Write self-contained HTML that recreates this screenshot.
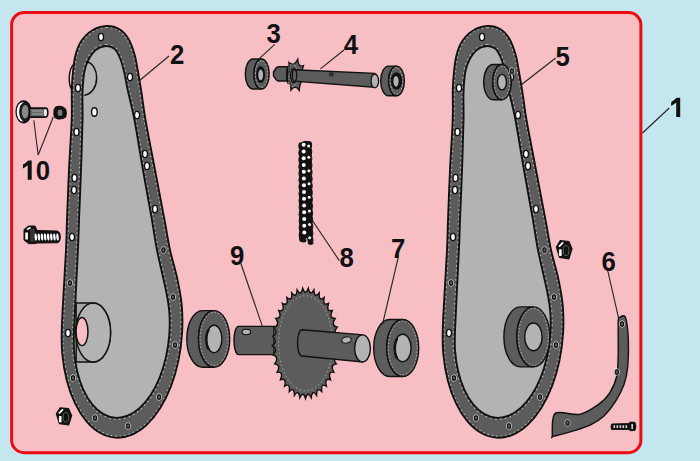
<!DOCTYPE html>
<html><head><meta charset="utf-8"><style>html,body{margin:0;padding:0;background:#c4e7ef;overflow:hidden}svg{display:block}</style></head><body>
<svg width="700" height="461" viewBox="0 0 700 461">
<rect x="0" y="0" width="700" height="461" fill="#c4e7ef"/>
<rect x="11.6" y="12.5" width="629.3" height="440.2" rx="12.5" fill="#f7bfc4" stroke="#ec0c14" stroke-width="3"/>
<g transform="translate(0,0)">
<clipPath id="cl"><path d="M106.50,26.00 C111.00,25.83 115.83,27.13 119.50,29.30 C123.17,31.47 125.98,34.77 128.50,39.00 C131.02,43.23 133.02,49.20 134.60,54.70 C136.18,60.20 136.85,65.65 138.00,72.00 C139.15,78.35 140.25,84.80 141.50,92.80 C142.75,100.80 143.25,107.13 145.50,120.00 C147.75,132.87 151.83,153.33 155.00,170.00 C158.17,186.67 162.00,206.67 164.50,220.00 C167.00,233.33 167.89,240.31 170.00,250.00 C172.11,259.69 175.23,269.04 177.17,278.14 C179.12,287.24 180.85,295.51 181.67,304.61 C182.49,313.72 182.64,323.42 182.10,332.77 C181.56,342.11 180.30,351.73 178.44,360.68 C176.57,369.63 173.98,378.52 170.93,386.46 C167.87,394.40 164.13,401.95 160.08,408.34 C156.03,414.74 151.40,420.43 146.64,424.84 C141.88,429.25 136.67,432.70 131.52,434.83 C126.37,436.96 120.94,437.92 115.75,437.62 C110.57,437.32 105.28,435.74 100.41,433.03 C95.54,430.32 90.76,426.31 86.54,421.38 C82.32,416.44 78.37,410.26 75.09,403.44 C71.80,396.62 68.95,388.70 66.83,380.46 C64.70,372.22 63.15,363.09 62.33,353.99 C61.51,344.88 61.29,343.17 61.90,325.83 C62.51,308.50 65.15,267.64 66.00,250.00 C66.85,232.36 66.50,233.33 67.00,220.00 C67.50,206.67 68.22,186.67 69.00,170.00 C69.78,153.33 71.23,133.43 71.70,120.00 C72.17,106.57 71.58,97.40 71.80,89.40 C72.02,81.40 72.37,77.78 73.00,72.00 C73.63,66.22 74.18,59.90 75.60,54.70 C77.02,49.50 78.68,44.87 81.50,40.80 C84.32,36.73 88.33,32.77 92.50,30.30 C96.67,27.83 102.00,26.17 106.50,26.00Z"/></clipPath>
<path d="M106.50,26.00 C111.00,25.83 115.83,27.13 119.50,29.30 C123.17,31.47 125.98,34.77 128.50,39.00 C131.02,43.23 133.02,49.20 134.60,54.70 C136.18,60.20 136.85,65.65 138.00,72.00 C139.15,78.35 140.25,84.80 141.50,92.80 C142.75,100.80 143.25,107.13 145.50,120.00 C147.75,132.87 151.83,153.33 155.00,170.00 C158.17,186.67 162.00,206.67 164.50,220.00 C167.00,233.33 167.89,240.31 170.00,250.00 C172.11,259.69 175.23,269.04 177.17,278.14 C179.12,287.24 180.85,295.51 181.67,304.61 C182.49,313.72 182.64,323.42 182.10,332.77 C181.56,342.11 180.30,351.73 178.44,360.68 C176.57,369.63 173.98,378.52 170.93,386.46 C167.87,394.40 164.13,401.95 160.08,408.34 C156.03,414.74 151.40,420.43 146.64,424.84 C141.88,429.25 136.67,432.70 131.52,434.83 C126.37,436.96 120.94,437.92 115.75,437.62 C110.57,437.32 105.28,435.74 100.41,433.03 C95.54,430.32 90.76,426.31 86.54,421.38 C82.32,416.44 78.37,410.26 75.09,403.44 C71.80,396.62 68.95,388.70 66.83,380.46 C64.70,372.22 63.15,363.09 62.33,353.99 C61.51,344.88 61.29,343.17 61.90,325.83 C62.51,308.50 65.15,267.64 66.00,250.00 C66.85,232.36 66.50,233.33 67.00,220.00 C67.50,206.67 68.22,186.67 69.00,170.00 C69.78,153.33 71.23,133.43 71.70,120.00 C72.17,106.57 71.58,97.40 71.80,89.40 C72.02,81.40 72.37,77.78 73.00,72.00 C73.63,66.22 74.18,59.90 75.60,54.70 C77.02,49.50 78.68,44.87 81.50,40.80 C84.32,36.73 88.33,32.77 92.50,30.30 C96.67,27.83 102.00,26.17 106.50,26.00Z" fill="#5c5c5c"/>
<path d="M106.50,26.00 C111.00,25.83 115.83,27.13 119.50,29.30 C123.17,31.47 125.98,34.77 128.50,39.00 C131.02,43.23 133.02,49.20 134.60,54.70 C136.18,60.20 136.85,65.65 138.00,72.00 C139.15,78.35 140.25,84.80 141.50,92.80 C142.75,100.80 143.25,107.13 145.50,120.00 C147.75,132.87 151.83,153.33 155.00,170.00 C158.17,186.67 162.00,206.67 164.50,220.00 C167.00,233.33 167.89,240.31 170.00,250.00 C172.11,259.69 175.23,269.04 177.17,278.14 C179.12,287.24 180.85,295.51 181.67,304.61 C182.49,313.72 182.64,323.42 182.10,332.77 C181.56,342.11 180.30,351.73 178.44,360.68 C176.57,369.63 173.98,378.52 170.93,386.46 C167.87,394.40 164.13,401.95 160.08,408.34 C156.03,414.74 151.40,420.43 146.64,424.84 C141.88,429.25 136.67,432.70 131.52,434.83 C126.37,436.96 120.94,437.92 115.75,437.62 C110.57,437.32 105.28,435.74 100.41,433.03 C95.54,430.32 90.76,426.31 86.54,421.38 C82.32,416.44 78.37,410.26 75.09,403.44 C71.80,396.62 68.95,388.70 66.83,380.46 C64.70,372.22 63.15,363.09 62.33,353.99 C61.51,344.88 61.29,343.17 61.90,325.83 C62.51,308.50 65.15,267.64 66.00,250.00 C66.85,232.36 66.50,233.33 67.00,220.00 C67.50,206.67 68.22,186.67 69.00,170.00 C69.78,153.33 71.23,133.43 71.70,120.00 C72.17,106.57 71.58,97.40 71.80,89.40 C72.02,81.40 72.37,77.78 73.00,72.00 C73.63,66.22 74.18,59.90 75.60,54.70 C77.02,49.50 78.68,44.87 81.50,40.80 C84.32,36.73 88.33,32.77 92.50,30.30 C96.67,27.83 102.00,26.17 106.50,26.00Z" fill="none" stroke="#fff" stroke-width="4.2" stroke-dasharray="1.5 3.2" clip-path="url(#cl)" opacity="0.6"/>
<path d="M106.00,46.00 C109.08,45.83 112.17,46.80 114.50,48.80 C116.83,50.80 118.38,54.13 120.00,58.00 C121.62,61.87 122.93,66.77 124.20,72.00 C125.47,77.23 125.88,81.40 127.60,89.40 C129.32,97.40 131.93,106.57 134.50,120.00 C137.07,133.43 140.08,153.33 143.00,170.00 C145.92,186.67 149.67,206.67 152.00,220.00 C154.33,233.33 154.63,238.08 157.00,250.00 C159.37,261.92 164.15,281.09 166.21,291.55 C168.27,302.00 168.85,305.44 169.36,312.71 C169.87,319.98 169.83,327.72 169.26,335.16 C168.69,342.60 167.54,350.25 165.92,357.36 C164.31,364.46 162.12,371.51 159.57,377.79 C157.02,384.08 153.94,390.03 150.64,395.07 C147.33,400.11 143.57,404.57 139.73,408.02 C135.89,411.47 131.71,414.13 127.60,415.75 C123.49,417.37 119.17,418.06 115.06,417.75 C110.96,417.43 106.80,416.09 102.98,413.86 C99.17,411.63 95.44,408.35 92.17,404.36 C88.91,400.37 85.87,395.38 83.38,389.90 C80.88,384.41 78.75,378.05 77.19,371.45 C75.64,364.85 74.55,357.56 74.04,350.29 C73.53,343.02 73.50,344.56 74.14,327.84 C74.78,311.13 77.09,267.97 77.90,250.00 C78.71,232.03 78.48,233.33 79.00,220.00 C79.52,206.67 80.42,186.67 81.00,170.00 C81.58,153.33 82.25,132.87 82.50,120.00 C82.75,107.13 82.20,100.80 82.50,92.80 C82.80,84.80 83.33,77.47 84.30,72.00 C85.27,66.53 86.35,63.70 88.30,60.00 C90.25,56.30 93.05,52.13 96.00,49.80 C98.95,47.47 102.92,46.17 106.00,46.00Z" fill="none" stroke="#fff" stroke-width="4.2" stroke-dasharray="1.5 3.2" opacity="0.6"/>
<path d="M106.00,46.00 C109.08,45.83 112.17,46.80 114.50,48.80 C116.83,50.80 118.38,54.13 120.00,58.00 C121.62,61.87 122.93,66.77 124.20,72.00 C125.47,77.23 125.88,81.40 127.60,89.40 C129.32,97.40 131.93,106.57 134.50,120.00 C137.07,133.43 140.08,153.33 143.00,170.00 C145.92,186.67 149.67,206.67 152.00,220.00 C154.33,233.33 154.63,238.08 157.00,250.00 C159.37,261.92 164.15,281.09 166.21,291.55 C168.27,302.00 168.85,305.44 169.36,312.71 C169.87,319.98 169.83,327.72 169.26,335.16 C168.69,342.60 167.54,350.25 165.92,357.36 C164.31,364.46 162.12,371.51 159.57,377.79 C157.02,384.08 153.94,390.03 150.64,395.07 C147.33,400.11 143.57,404.57 139.73,408.02 C135.89,411.47 131.71,414.13 127.60,415.75 C123.49,417.37 119.17,418.06 115.06,417.75 C110.96,417.43 106.80,416.09 102.98,413.86 C99.17,411.63 95.44,408.35 92.17,404.36 C88.91,400.37 85.87,395.38 83.38,389.90 C80.88,384.41 78.75,378.05 77.19,371.45 C75.64,364.85 74.55,357.56 74.04,350.29 C73.53,343.02 73.50,344.56 74.14,327.84 C74.78,311.13 77.09,267.97 77.90,250.00 C78.71,232.03 78.48,233.33 79.00,220.00 C79.52,206.67 80.42,186.67 81.00,170.00 C81.58,153.33 82.25,132.87 82.50,120.00 C82.75,107.13 82.20,100.80 82.50,92.80 C82.80,84.80 83.33,77.47 84.30,72.00 C85.27,66.53 86.35,63.70 88.30,60.00 C90.25,56.30 93.05,52.13 96.00,49.80 C98.95,47.47 102.92,46.17 106.00,46.00Z" fill="#b3b3b3" stroke="#111" stroke-width="1.9"/>
<path d="M106.50,26.00 C111.00,25.83 115.83,27.13 119.50,29.30 C123.17,31.47 125.98,34.77 128.50,39.00 C131.02,43.23 133.02,49.20 134.60,54.70 C136.18,60.20 136.85,65.65 138.00,72.00 C139.15,78.35 140.25,84.80 141.50,92.80 C142.75,100.80 143.25,107.13 145.50,120.00 C147.75,132.87 151.83,153.33 155.00,170.00 C158.17,186.67 162.00,206.67 164.50,220.00 C167.00,233.33 167.89,240.31 170.00,250.00 C172.11,259.69 175.23,269.04 177.17,278.14 C179.12,287.24 180.85,295.51 181.67,304.61 C182.49,313.72 182.64,323.42 182.10,332.77 C181.56,342.11 180.30,351.73 178.44,360.68 C176.57,369.63 173.98,378.52 170.93,386.46 C167.87,394.40 164.13,401.95 160.08,408.34 C156.03,414.74 151.40,420.43 146.64,424.84 C141.88,429.25 136.67,432.70 131.52,434.83 C126.37,436.96 120.94,437.92 115.75,437.62 C110.57,437.32 105.28,435.74 100.41,433.03 C95.54,430.32 90.76,426.31 86.54,421.38 C82.32,416.44 78.37,410.26 75.09,403.44 C71.80,396.62 68.95,388.70 66.83,380.46 C64.70,372.22 63.15,363.09 62.33,353.99 C61.51,344.88 61.29,343.17 61.90,325.83 C62.51,308.50 65.15,267.64 66.00,250.00 C66.85,232.36 66.50,233.33 67.00,220.00 C67.50,206.67 68.22,186.67 69.00,170.00 C69.78,153.33 71.23,133.43 71.70,120.00 C72.17,106.57 71.58,97.40 71.80,89.40 C72.02,81.40 72.37,77.78 73.00,72.00 C73.63,66.22 74.18,59.90 75.60,54.70 C77.02,49.50 78.68,44.87 81.50,40.80 C84.32,36.73 88.33,32.77 92.50,30.30 C96.67,27.83 102.00,26.17 106.50,26.00Z" fill="none" stroke="#111" stroke-width="1.9"/>
<ellipse cx="101" cy="37" rx="2.5" ry="3.6" fill="#fff" stroke="#111" stroke-width="1.4"/>
<ellipse cx="68" cy="333" rx="2.5" ry="3.6" fill="#fff" stroke="#111" stroke-width="1.4"/>
<ellipse cx="78" cy="88" rx="2.5" ry="3.6" fill="#fff" stroke="#111" stroke-width="1.4"/>
<ellipse cx="130" cy="77" rx="2.5" ry="3.6" fill="#fff" stroke="#111" stroke-width="1.4"/>
<ellipse cx="137" cy="115" rx="2.5" ry="3.6" fill="#fff" stroke="#111" stroke-width="1.4"/>
<ellipse cx="76.5" cy="132" rx="2.5" ry="3.6" fill="#fff" stroke="#111" stroke-width="1.4"/>
<ellipse cx="74.5" cy="178" rx="2.5" ry="3.6" fill="#fff" stroke="#111" stroke-width="1.4"/>
<ellipse cx="74" cy="190" rx="2.5" ry="3.6" fill="#fff" stroke="#111" stroke-width="1.4"/>
<ellipse cx="145" cy="154" rx="2.5" ry="3.6" fill="#fff" stroke="#111" stroke-width="1.4"/>
<ellipse cx="147" cy="166" rx="2.5" ry="3.6" fill="#fff" stroke="#111" stroke-width="1.4"/>
<ellipse cx="155" cy="209" rx="2.5" ry="3.6" fill="#fff" stroke="#111" stroke-width="1.4"/>
<ellipse cx="72" cy="237" rx="2.5" ry="3.6" fill="#fff" stroke="#111" stroke-width="1.4"/>
<ellipse cx="70" cy="283" rx="2.6" ry="3.3" fill="none" stroke="#ddd" stroke-width="1" opacity="0.8"/><ellipse cx="70" cy="283" rx="1.6" ry="2.3" fill="#5c5c5c" stroke="#111" stroke-width="1.1"/>
<ellipse cx="163.5" cy="250" rx="2.6" ry="3.3" fill="none" stroke="#ddd" stroke-width="1" opacity="0.8"/><ellipse cx="163.5" cy="250" rx="1.6" ry="2.3" fill="#5c5c5c" stroke="#111" stroke-width="1.1"/>
<ellipse cx="173" cy="297" rx="2.6" ry="3.3" fill="none" stroke="#ddd" stroke-width="1" opacity="0.8"/><ellipse cx="173" cy="297" rx="1.6" ry="2.3" fill="#5c5c5c" stroke="#111" stroke-width="1.1"/>
<ellipse cx="73" cy="378" rx="2.6" ry="3.3" fill="none" stroke="#ddd" stroke-width="1" opacity="0.8"/><ellipse cx="73" cy="378" rx="1.6" ry="2.3" fill="#5c5c5c" stroke="#111" stroke-width="1.1"/>
<ellipse cx="95" cy="418" rx="2.6" ry="3.3" fill="none" stroke="#ddd" stroke-width="1" opacity="0.8"/><ellipse cx="95" cy="418" rx="1.6" ry="2.3" fill="#5c5c5c" stroke="#111" stroke-width="1.1"/>
<ellipse cx="128" cy="426" rx="2.6" ry="3.3" fill="none" stroke="#ddd" stroke-width="1" opacity="0.8"/><ellipse cx="128" cy="426" rx="1.6" ry="2.3" fill="#5c5c5c" stroke="#111" stroke-width="1.1"/>
<ellipse cx="159" cy="397" rx="2.6" ry="3.3" fill="none" stroke="#ddd" stroke-width="1" opacity="0.8"/><ellipse cx="159" cy="397" rx="1.6" ry="2.3" fill="#5c5c5c" stroke="#111" stroke-width="1.1"/>
<ellipse cx="175" cy="345" rx="2.6" ry="3.3" fill="none" stroke="#ddd" stroke-width="1" opacity="0.8"/><ellipse cx="175" cy="345" rx="1.6" ry="2.3" fill="#5c5c5c" stroke="#111" stroke-width="1.1"/>
</g>
<path d="M86,61.6 C100,64 101,92 84.3,95.4" fill="none" stroke="#111" stroke-width="1.5"/>
<path d="M73.9,64 C68,70 68,84 72,90" fill="none" stroke="#111" stroke-width="1.4"/>
<ellipse cx="94.4" cy="112" rx="2.8" ry="4.3" fill="#fff" stroke="#111" stroke-width="1.4"/>
<path d="M76.2,303 L93.2,303 A17.4,29.5 0 0 1 93.2,362 L76.2,362 Z" fill="#a6a6a6" stroke="#111" stroke-width="1.4"/>
<ellipse cx="93.2" cy="332.5" rx="17.4" ry="29.5" fill="#b3b3b3" stroke="#111" stroke-width="1.5"/>
<ellipse cx="82" cy="331.6" rx="6" ry="14" fill="#f7bfc4" stroke="#111" stroke-width="1.5"/>
<g transform="translate(381,0)">
<clipPath id="cr"><path d="M106.50,26.00 C111.00,25.83 115.83,27.13 119.50,29.30 C123.17,31.47 125.98,34.77 128.50,39.00 C131.02,43.23 133.02,49.20 134.60,54.70 C136.18,60.20 136.85,65.65 138.00,72.00 C139.15,78.35 140.25,84.80 141.50,92.80 C142.75,100.80 143.25,107.13 145.50,120.00 C147.75,132.87 151.83,153.33 155.00,170.00 C158.17,186.67 162.00,206.67 164.50,220.00 C167.00,233.33 167.89,240.31 170.00,250.00 C172.11,259.69 175.23,269.04 177.17,278.14 C179.12,287.24 180.85,295.51 181.67,304.61 C182.49,313.72 182.64,323.42 182.10,332.77 C181.56,342.11 180.30,351.73 178.44,360.68 C176.57,369.63 173.98,378.52 170.93,386.46 C167.87,394.40 164.13,401.95 160.08,408.34 C156.03,414.74 151.40,420.43 146.64,424.84 C141.88,429.25 136.67,432.70 131.52,434.83 C126.37,436.96 120.94,437.92 115.75,437.62 C110.57,437.32 105.28,435.74 100.41,433.03 C95.54,430.32 90.76,426.31 86.54,421.38 C82.32,416.44 78.37,410.26 75.09,403.44 C71.80,396.62 68.95,388.70 66.83,380.46 C64.70,372.22 63.15,363.09 62.33,353.99 C61.51,344.88 61.29,343.17 61.90,325.83 C62.51,308.50 65.15,267.64 66.00,250.00 C66.85,232.36 66.50,233.33 67.00,220.00 C67.50,206.67 68.22,186.67 69.00,170.00 C69.78,153.33 71.23,133.43 71.70,120.00 C72.17,106.57 71.58,97.40 71.80,89.40 C72.02,81.40 72.37,77.78 73.00,72.00 C73.63,66.22 74.18,59.90 75.60,54.70 C77.02,49.50 78.68,44.87 81.50,40.80 C84.32,36.73 88.33,32.77 92.50,30.30 C96.67,27.83 102.00,26.17 106.50,26.00Z"/></clipPath>
<path d="M106.50,26.00 C111.00,25.83 115.83,27.13 119.50,29.30 C123.17,31.47 125.98,34.77 128.50,39.00 C131.02,43.23 133.02,49.20 134.60,54.70 C136.18,60.20 136.85,65.65 138.00,72.00 C139.15,78.35 140.25,84.80 141.50,92.80 C142.75,100.80 143.25,107.13 145.50,120.00 C147.75,132.87 151.83,153.33 155.00,170.00 C158.17,186.67 162.00,206.67 164.50,220.00 C167.00,233.33 167.89,240.31 170.00,250.00 C172.11,259.69 175.23,269.04 177.17,278.14 C179.12,287.24 180.85,295.51 181.67,304.61 C182.49,313.72 182.64,323.42 182.10,332.77 C181.56,342.11 180.30,351.73 178.44,360.68 C176.57,369.63 173.98,378.52 170.93,386.46 C167.87,394.40 164.13,401.95 160.08,408.34 C156.03,414.74 151.40,420.43 146.64,424.84 C141.88,429.25 136.67,432.70 131.52,434.83 C126.37,436.96 120.94,437.92 115.75,437.62 C110.57,437.32 105.28,435.74 100.41,433.03 C95.54,430.32 90.76,426.31 86.54,421.38 C82.32,416.44 78.37,410.26 75.09,403.44 C71.80,396.62 68.95,388.70 66.83,380.46 C64.70,372.22 63.15,363.09 62.33,353.99 C61.51,344.88 61.29,343.17 61.90,325.83 C62.51,308.50 65.15,267.64 66.00,250.00 C66.85,232.36 66.50,233.33 67.00,220.00 C67.50,206.67 68.22,186.67 69.00,170.00 C69.78,153.33 71.23,133.43 71.70,120.00 C72.17,106.57 71.58,97.40 71.80,89.40 C72.02,81.40 72.37,77.78 73.00,72.00 C73.63,66.22 74.18,59.90 75.60,54.70 C77.02,49.50 78.68,44.87 81.50,40.80 C84.32,36.73 88.33,32.77 92.50,30.30 C96.67,27.83 102.00,26.17 106.50,26.00Z" fill="#5c5c5c"/>
<path d="M106.50,26.00 C111.00,25.83 115.83,27.13 119.50,29.30 C123.17,31.47 125.98,34.77 128.50,39.00 C131.02,43.23 133.02,49.20 134.60,54.70 C136.18,60.20 136.85,65.65 138.00,72.00 C139.15,78.35 140.25,84.80 141.50,92.80 C142.75,100.80 143.25,107.13 145.50,120.00 C147.75,132.87 151.83,153.33 155.00,170.00 C158.17,186.67 162.00,206.67 164.50,220.00 C167.00,233.33 167.89,240.31 170.00,250.00 C172.11,259.69 175.23,269.04 177.17,278.14 C179.12,287.24 180.85,295.51 181.67,304.61 C182.49,313.72 182.64,323.42 182.10,332.77 C181.56,342.11 180.30,351.73 178.44,360.68 C176.57,369.63 173.98,378.52 170.93,386.46 C167.87,394.40 164.13,401.95 160.08,408.34 C156.03,414.74 151.40,420.43 146.64,424.84 C141.88,429.25 136.67,432.70 131.52,434.83 C126.37,436.96 120.94,437.92 115.75,437.62 C110.57,437.32 105.28,435.74 100.41,433.03 C95.54,430.32 90.76,426.31 86.54,421.38 C82.32,416.44 78.37,410.26 75.09,403.44 C71.80,396.62 68.95,388.70 66.83,380.46 C64.70,372.22 63.15,363.09 62.33,353.99 C61.51,344.88 61.29,343.17 61.90,325.83 C62.51,308.50 65.15,267.64 66.00,250.00 C66.85,232.36 66.50,233.33 67.00,220.00 C67.50,206.67 68.22,186.67 69.00,170.00 C69.78,153.33 71.23,133.43 71.70,120.00 C72.17,106.57 71.58,97.40 71.80,89.40 C72.02,81.40 72.37,77.78 73.00,72.00 C73.63,66.22 74.18,59.90 75.60,54.70 C77.02,49.50 78.68,44.87 81.50,40.80 C84.32,36.73 88.33,32.77 92.50,30.30 C96.67,27.83 102.00,26.17 106.50,26.00Z" fill="none" stroke="#fff" stroke-width="4.2" stroke-dasharray="1.5 3.2" clip-path="url(#cr)" opacity="0.6"/>
<path d="M106.00,46.00 C109.08,45.83 112.17,46.80 114.50,48.80 C116.83,50.80 118.38,54.13 120.00,58.00 C121.62,61.87 122.93,66.77 124.20,72.00 C125.47,77.23 125.88,81.40 127.60,89.40 C129.32,97.40 131.93,106.57 134.50,120.00 C137.07,133.43 140.08,153.33 143.00,170.00 C145.92,186.67 149.67,206.67 152.00,220.00 C154.33,233.33 154.63,238.08 157.00,250.00 C159.37,261.92 164.15,281.09 166.21,291.55 C168.27,302.00 168.85,305.44 169.36,312.71 C169.87,319.98 169.83,327.72 169.26,335.16 C168.69,342.60 167.54,350.25 165.92,357.36 C164.31,364.46 162.12,371.51 159.57,377.79 C157.02,384.08 153.94,390.03 150.64,395.07 C147.33,400.11 143.57,404.57 139.73,408.02 C135.89,411.47 131.71,414.13 127.60,415.75 C123.49,417.37 119.17,418.06 115.06,417.75 C110.96,417.43 106.80,416.09 102.98,413.86 C99.17,411.63 95.44,408.35 92.17,404.36 C88.91,400.37 85.87,395.38 83.38,389.90 C80.88,384.41 78.75,378.05 77.19,371.45 C75.64,364.85 74.55,357.56 74.04,350.29 C73.53,343.02 73.50,344.56 74.14,327.84 C74.78,311.13 77.09,267.97 77.90,250.00 C78.71,232.03 78.48,233.33 79.00,220.00 C79.52,206.67 80.42,186.67 81.00,170.00 C81.58,153.33 82.25,132.87 82.50,120.00 C82.75,107.13 82.20,100.80 82.50,92.80 C82.80,84.80 83.33,77.47 84.30,72.00 C85.27,66.53 86.35,63.70 88.30,60.00 C90.25,56.30 93.05,52.13 96.00,49.80 C98.95,47.47 102.92,46.17 106.00,46.00Z" fill="none" stroke="#fff" stroke-width="4.2" stroke-dasharray="1.5 3.2" opacity="0.6"/>
<path d="M106.00,46.00 C109.08,45.83 112.17,46.80 114.50,48.80 C116.83,50.80 118.38,54.13 120.00,58.00 C121.62,61.87 122.93,66.77 124.20,72.00 C125.47,77.23 125.88,81.40 127.60,89.40 C129.32,97.40 131.93,106.57 134.50,120.00 C137.07,133.43 140.08,153.33 143.00,170.00 C145.92,186.67 149.67,206.67 152.00,220.00 C154.33,233.33 154.63,238.08 157.00,250.00 C159.37,261.92 164.15,281.09 166.21,291.55 C168.27,302.00 168.85,305.44 169.36,312.71 C169.87,319.98 169.83,327.72 169.26,335.16 C168.69,342.60 167.54,350.25 165.92,357.36 C164.31,364.46 162.12,371.51 159.57,377.79 C157.02,384.08 153.94,390.03 150.64,395.07 C147.33,400.11 143.57,404.57 139.73,408.02 C135.89,411.47 131.71,414.13 127.60,415.75 C123.49,417.37 119.17,418.06 115.06,417.75 C110.96,417.43 106.80,416.09 102.98,413.86 C99.17,411.63 95.44,408.35 92.17,404.36 C88.91,400.37 85.87,395.38 83.38,389.90 C80.88,384.41 78.75,378.05 77.19,371.45 C75.64,364.85 74.55,357.56 74.04,350.29 C73.53,343.02 73.50,344.56 74.14,327.84 C74.78,311.13 77.09,267.97 77.90,250.00 C78.71,232.03 78.48,233.33 79.00,220.00 C79.52,206.67 80.42,186.67 81.00,170.00 C81.58,153.33 82.25,132.87 82.50,120.00 C82.75,107.13 82.20,100.80 82.50,92.80 C82.80,84.80 83.33,77.47 84.30,72.00 C85.27,66.53 86.35,63.70 88.30,60.00 C90.25,56.30 93.05,52.13 96.00,49.80 C98.95,47.47 102.92,46.17 106.00,46.00Z" fill="#b3b3b3" stroke="#111" stroke-width="1.9"/>
<path d="M106.50,26.00 C111.00,25.83 115.83,27.13 119.50,29.30 C123.17,31.47 125.98,34.77 128.50,39.00 C131.02,43.23 133.02,49.20 134.60,54.70 C136.18,60.20 136.85,65.65 138.00,72.00 C139.15,78.35 140.25,84.80 141.50,92.80 C142.75,100.80 143.25,107.13 145.50,120.00 C147.75,132.87 151.83,153.33 155.00,170.00 C158.17,186.67 162.00,206.67 164.50,220.00 C167.00,233.33 167.89,240.31 170.00,250.00 C172.11,259.69 175.23,269.04 177.17,278.14 C179.12,287.24 180.85,295.51 181.67,304.61 C182.49,313.72 182.64,323.42 182.10,332.77 C181.56,342.11 180.30,351.73 178.44,360.68 C176.57,369.63 173.98,378.52 170.93,386.46 C167.87,394.40 164.13,401.95 160.08,408.34 C156.03,414.74 151.40,420.43 146.64,424.84 C141.88,429.25 136.67,432.70 131.52,434.83 C126.37,436.96 120.94,437.92 115.75,437.62 C110.57,437.32 105.28,435.74 100.41,433.03 C95.54,430.32 90.76,426.31 86.54,421.38 C82.32,416.44 78.37,410.26 75.09,403.44 C71.80,396.62 68.95,388.70 66.83,380.46 C64.70,372.22 63.15,363.09 62.33,353.99 C61.51,344.88 61.29,343.17 61.90,325.83 C62.51,308.50 65.15,267.64 66.00,250.00 C66.85,232.36 66.50,233.33 67.00,220.00 C67.50,206.67 68.22,186.67 69.00,170.00 C69.78,153.33 71.23,133.43 71.70,120.00 C72.17,106.57 71.58,97.40 71.80,89.40 C72.02,81.40 72.37,77.78 73.00,72.00 C73.63,66.22 74.18,59.90 75.60,54.70 C77.02,49.50 78.68,44.87 81.50,40.80 C84.32,36.73 88.33,32.77 92.50,30.30 C96.67,27.83 102.00,26.17 106.50,26.00Z" fill="none" stroke="#111" stroke-width="1.9"/>
<ellipse cx="101" cy="37" rx="2.5" ry="3.6" fill="#fff" stroke="#111" stroke-width="1.4"/>
<ellipse cx="68" cy="333" rx="2.5" ry="3.6" fill="#fff" stroke="#111" stroke-width="1.4"/>
<ellipse cx="78" cy="88" rx="2.5" ry="3.6" fill="#fff" stroke="#111" stroke-width="1.4"/>
<ellipse cx="130" cy="77" rx="2.5" ry="3.6" fill="#fff" stroke="#111" stroke-width="1.4"/>
<ellipse cx="137" cy="115" rx="2.5" ry="3.6" fill="#fff" stroke="#111" stroke-width="1.4"/>
<ellipse cx="76.5" cy="132" rx="2.5" ry="3.6" fill="#fff" stroke="#111" stroke-width="1.4"/>
<ellipse cx="74.5" cy="178" rx="2.5" ry="3.6" fill="#fff" stroke="#111" stroke-width="1.4"/>
<ellipse cx="74" cy="190" rx="2.5" ry="3.6" fill="#fff" stroke="#111" stroke-width="1.4"/>
<ellipse cx="145" cy="154" rx="2.5" ry="3.6" fill="#fff" stroke="#111" stroke-width="1.4"/>
<ellipse cx="147" cy="166" rx="2.5" ry="3.6" fill="#fff" stroke="#111" stroke-width="1.4"/>
<ellipse cx="155" cy="209" rx="2.5" ry="3.6" fill="#fff" stroke="#111" stroke-width="1.4"/>
<ellipse cx="72" cy="237" rx="2.5" ry="3.6" fill="#fff" stroke="#111" stroke-width="1.4"/>
<ellipse cx="70" cy="283" rx="2.6" ry="3.3" fill="none" stroke="#ddd" stroke-width="1" opacity="0.8"/><ellipse cx="70" cy="283" rx="1.6" ry="2.3" fill="#5c5c5c" stroke="#111" stroke-width="1.1"/>
<ellipse cx="163.5" cy="250" rx="2.6" ry="3.3" fill="none" stroke="#ddd" stroke-width="1" opacity="0.8"/><ellipse cx="163.5" cy="250" rx="1.6" ry="2.3" fill="#5c5c5c" stroke="#111" stroke-width="1.1"/>
<ellipse cx="173" cy="297" rx="2.6" ry="3.3" fill="none" stroke="#ddd" stroke-width="1" opacity="0.8"/><ellipse cx="173" cy="297" rx="1.6" ry="2.3" fill="#5c5c5c" stroke="#111" stroke-width="1.1"/>
<ellipse cx="73" cy="378" rx="2.6" ry="3.3" fill="none" stroke="#ddd" stroke-width="1" opacity="0.8"/><ellipse cx="73" cy="378" rx="1.6" ry="2.3" fill="#5c5c5c" stroke="#111" stroke-width="1.1"/>
<ellipse cx="95" cy="418" rx="2.6" ry="3.3" fill="none" stroke="#ddd" stroke-width="1" opacity="0.8"/><ellipse cx="95" cy="418" rx="1.6" ry="2.3" fill="#5c5c5c" stroke="#111" stroke-width="1.1"/>
<ellipse cx="128" cy="426" rx="2.6" ry="3.3" fill="none" stroke="#ddd" stroke-width="1" opacity="0.8"/><ellipse cx="128" cy="426" rx="1.6" ry="2.3" fill="#5c5c5c" stroke="#111" stroke-width="1.1"/>
<ellipse cx="159" cy="397" rx="2.6" ry="3.3" fill="none" stroke="#ddd" stroke-width="1" opacity="0.8"/><ellipse cx="159" cy="397" rx="1.6" ry="2.3" fill="#5c5c5c" stroke="#111" stroke-width="1.1"/>
<ellipse cx="175" cy="345" rx="2.6" ry="3.3" fill="none" stroke="#ddd" stroke-width="1" opacity="0.8"/><ellipse cx="175" cy="345" rx="1.6" ry="2.3" fill="#5c5c5c" stroke="#111" stroke-width="1.1"/>
</g>
<path d="M493,64.5 A9.3,17.6 0 0 0 493,99.7 L502,99.7 A9.3,17.6 0 0 1 502,64.5 Z" fill="#5c5c5c" stroke="#111" stroke-width="1.4"/>
<ellipse cx="502" cy="82.1" rx="9.3" ry="17.6" fill="#5c5c5c" stroke="#111" stroke-width="1.4"/>
<ellipse cx="502" cy="82.1" rx="7.7" ry="16" fill="none" stroke="#fff" stroke-width="0.9" stroke-dasharray="1.5 2" opacity="0.6"/>
<ellipse cx="502" cy="82.1" rx="4.5" ry="7.75" fill="#b3b3b3" stroke="#111" stroke-width="1.4"/>
<ellipse cx="512" cy="71" rx="2.6" ry="3.3" fill="none" stroke="#ddd" stroke-width="1" opacity="0.8"/><ellipse cx="512" cy="71" rx="1.6" ry="2.3" fill="#5c5c5c" stroke="#111" stroke-width="1.1"/>
<path d="M520.4,306.9 A16.5,30 0 0 0 520.4,366.9 L533.4,366.9 A16.5,30 0 0 1 533.4,306.9 Z" fill="#5c5c5c" stroke="#111" stroke-width="1.4"/>
<ellipse cx="533.4" cy="336.9" rx="16.5" ry="30" fill="#5c5c5c" stroke="#111" stroke-width="1.4"/>
<ellipse cx="533.4" cy="336.9" rx="14.9" ry="28.4" fill="none" stroke="#fff" stroke-width="0.9" stroke-dasharray="1.5 2" opacity="0.6"/>
<ellipse cx="533.4" cy="336.9" rx="8.7" ry="13.9" fill="#b3b3b3" stroke="#111" stroke-width="1.4"/>
<path d="M253,59 A7.7,15 0 0 0 253,89 L261.5,89 A7.7,15 0 0 1 261.5,59 Z" fill="#5c5c5c" stroke="#111" stroke-width="1.4"/>
<ellipse cx="261.5" cy="74" rx="7.7" ry="15" fill="#5c5c5c" stroke="#111" stroke-width="1.4"/>
<ellipse cx="261.5" cy="74" rx="6.1" ry="13.4" fill="none" stroke="#fff" stroke-width="0.9" stroke-dasharray="1.5 2" opacity="0.6"/>
<ellipse cx="260.6" cy="74.5" rx="4.5" ry="8.6" fill="#111"/>
<ellipse cx="260.7" cy="74.9" rx="2.4" ry="5.4" fill="#b3b3b3"/>
<path d="M288.94,62.47 Q294.07,66.71 297.75,59.20 Q298.46,68.02 303.45,65.64 Q300.78,73.44 305.08,78.63 Q299.63,80.72 299.24,90.37 Q295.18,83.90 290.96,90.07 Q290.84,80.45 285.45,78.07 Q290.05,72.19 288.94,62.47Z" fill="#5c5c5c" stroke="#111" stroke-width="1.3"/>
<ellipse cx="292.5" cy="75.2" rx="4.5" ry="11.5" fill="none" stroke="#fff" stroke-width="1" stroke-dasharray="1.5 1.5" opacity="0.6"/>
<path d="M273.5,72 L276.5,67.5 Q277.5,66.7 279,66.7 L287.5,66.7 L287.5,81 L279,81 Q277.5,81 276.5,80 L273.5,76 Z" fill="#5c5c5c" stroke="#111" stroke-width="1.4" stroke-linejoin="round"/>
<path d="M288.5,66 A3,9.5 0 0 0 288.5,84" fill="none" stroke="#111" stroke-width="1.2"/>
<ellipse cx="293.8" cy="75.5" rx="3.2" ry="7.5" fill="#5c5c5c" stroke="#111" stroke-width="1.2"/>
<path d="M294,69.8 L374.6,73.3 L374.1,87.3 L294,81.2 Z" fill="#5c5c5c" stroke="#111" stroke-width="1.4"/>
<ellipse cx="294.5" cy="75.5" rx="2.2" ry="5.8" fill="#5c5c5c" stroke="#111" stroke-width="1.2"/>
<ellipse cx="374.8" cy="80.9" rx="3.8" ry="6.9" fill="#b3b3b3" stroke="#111" stroke-width="1.3"/>
<ellipse cx="331.4" cy="74.4" rx="2" ry="1.6" fill="#444" stroke="#111" stroke-width="0.9"/>
<path d="M388.6,66.1 A7.9,14.8 0 0 0 388.6,95.7 L396.5,95.7 A7.9,14.8 0 0 1 396.5,66.1 Z" fill="#5c5c5c" stroke="#111" stroke-width="1.4"/>
<ellipse cx="396.5" cy="80.9" rx="7.9" ry="14.8" fill="#5c5c5c" stroke="#111" stroke-width="1.4"/>
<ellipse cx="396.5" cy="80.9" rx="6.3" ry="13.2" fill="none" stroke="#fff" stroke-width="0.9" stroke-dasharray="1.5 2" opacity="0.6"/>
<ellipse cx="396.5" cy="80.9" rx="5" ry="8" fill="#111" stroke="#111" stroke-width="1.4"/>
<ellipse cx="396" cy="81.3" rx="2.6" ry="5.4" fill="#b3b3b3"/>
<path d="M299.5,143.5 Q305,139.8 311,142 Q312.35,144.90 311.10,148.30 Q312.45,151.70 311.20,155.10 Q312.55,158.50 311.29,161.90 Q312.64,165.30 311.39,168.70 Q312.74,172.10 311.48,175.50 Q312.83,178.90 311.58,182.30 Q312.93,185.70 311.67,189.10 Q313.02,192.50 311.77,195.90 Q313.12,199.30 311.86,202.70 Q313.21,206.10 311.96,209.50 Q313.31,212.90 312.05,216.30 Q313.40,219.70 312.15,223.10 Q313.50,226.50 312.24,229.90 Q313.59,233.30 312.34,236.70 Q313.69,240.10 312.44,243.50 L313.3,243.5 Q310.5,245.5 308,243.5 L307.5,239 L305.5,241.8 Q302,242.5 300,241  Q298.47,234.60 299.76,231.20 Q298.45,227.80 299.73,224.40 Q298.42,221.00 299.71,217.60 Q298.39,214.20 299.68,210.80 Q298.37,207.40 299.65,204.00 Q298.34,200.60 299.62,197.20 Q298.31,193.80 299.60,190.40 Q298.28,187.00 299.57,183.60 Q298.26,180.20 299.54,176.80 Q298.23,173.40 299.52,170.00 Q298.20,166.60 299.49,163.20 Q298.18,159.80 299.46,156.40 Q298.15,153.00 299.43,149.60 Q298.12,146.20 299.41,142.80Z" fill="#111" stroke="#111" stroke-width="1.0" stroke-linejoin="round"/>
<ellipse cx="303.60" cy="144.80" rx="2" ry="2" fill="#fff"/>
<ellipse cx="303.66" cy="151.55" rx="2" ry="2" fill="#fff"/>
<ellipse cx="303.71" cy="158.30" rx="2" ry="2" fill="#fff"/>
<ellipse cx="303.77" cy="165.05" rx="2" ry="2" fill="#fff"/>
<ellipse cx="303.82" cy="171.80" rx="2" ry="2" fill="#fff"/>
<ellipse cx="303.88" cy="178.55" rx="2" ry="2" fill="#fff"/>
<ellipse cx="303.93" cy="185.30" rx="2" ry="2" fill="#fff"/>
<ellipse cx="303.99" cy="192.05" rx="2" ry="2" fill="#fff"/>
<ellipse cx="304.04" cy="198.80" rx="2" ry="2" fill="#fff"/>
<ellipse cx="304.10" cy="205.55" rx="2" ry="2" fill="#fff"/>
<ellipse cx="304.15" cy="212.30" rx="2" ry="2" fill="#fff"/>
<ellipse cx="304.21" cy="219.05" rx="2" ry="2" fill="#fff"/>
<ellipse cx="304.26" cy="225.80" rx="2" ry="2" fill="#fff"/>
<ellipse cx="304.31" cy="232.55" rx="2" ry="2" fill="#fff"/>
<ellipse cx="308.61" cy="145.90" rx="1.5" ry="1.5" fill="#f2f2f2"/>
<ellipse cx="308.75" cy="157.20" rx="1.5" ry="1.5" fill="#f2f2f2"/>
<ellipse cx="308.91" cy="170.70" rx="1.5" ry="1.5" fill="#f2f2f2"/>
<ellipse cx="309.06" cy="183.70" rx="1.5" ry="1.5" fill="#f2f2f2"/>
<ellipse cx="309.23" cy="197.20" rx="1.5" ry="1.5" fill="#f2f2f2"/>
<ellipse cx="309.39" cy="210.90" rx="1.5" ry="1.5" fill="#f2f2f2"/>
<ellipse cx="309.56" cy="224.60" rx="1.5" ry="1.5" fill="#f2f2f2"/>
<ellipse cx="309.71" cy="237.80" rx="1.5" ry="1.5" fill="#f2f2f2"/>
<line x1="306.5" y1="238" x2="307.5" y2="243" stroke="#f7bfc4" stroke-width="1"/>
<path d="M202.4,310.6 A15.6,28.3 0 0 0 202.4,367.2 L214.1,367.2 A15.6,28.3 0 0 1 214.1,310.6 Z" fill="#5c5c5c" stroke="#111" stroke-width="1.4"/>
<ellipse cx="214.1" cy="338.9" rx="15.6" ry="28.3" fill="#5c5c5c" stroke="#111" stroke-width="1.4"/>
<ellipse cx="214.1" cy="338.9" rx="14" ry="26.7" fill="none" stroke="#fff" stroke-width="0.9" stroke-dasharray="1.5 2" opacity="0.6"/>
<ellipse cx="214.1" cy="338.9" rx="7.8" ry="13.7" fill="#b3b3b3" stroke="#111" stroke-width="1.4"/>
<path d="M209.5,330 A3,9 0 0 0 209.5,349" fill="none" stroke="#111" stroke-width="2.4"/>
<path d="M238.5,326.4 L274,326.4 L274,354.6 L238.5,354.6 A4.5,14.1 0 0 1 238.5,326.4 Z" fill="#5c5c5c" stroke="#111" stroke-width="1.4"/>
<ellipse cx="246.3" cy="332" rx="4.3" ry="2.7" fill="#b3b3b3" stroke="#111" stroke-width="1.1"/>
<path d="M338.77,345.64 Q332.31,349.30 338.05,354.93 Q331.35,357.13 336.40,363.88 Q329.64,364.56 333.86,372.25 Q327.23,371.37 330.50,379.77 Q324.20,377.39 326.42,386.25 Q320.64,382.42 321.74,391.50 Q316.63,386.32 316.59,395.35 Q312.31,388.99 311.13,397.71 Q307.79,390.34 305.50,398.51 Q303.21,390.34 299.87,397.71 Q298.69,388.99 294.41,395.35 Q294.37,386.32 289.26,391.50 Q290.36,382.42 284.58,386.25 Q286.80,377.39 280.50,379.77 Q283.77,371.37 277.14,372.25 Q281.36,364.56 274.60,363.88 Q279.65,357.13 272.95,354.93 Q278.69,349.30 272.23,345.64 Q278.49,341.30 272.47,336.29 Q279.08,333.35 273.66,327.13 Q280.42,325.70 275.77,318.45 Q282.48,318.55 278.73,310.47 Q285.21,312.11 282.46,303.44 Q288.52,306.57 286.85,297.56 Q292.32,302.08 291.78,292.99 Q296.50,298.78 297.11,289.87 Q300.93,296.77 302.68,288.29 Q305.50,296.09 308.32,288.29 Q310.07,296.77 313.89,289.87 Q314.50,298.78 319.22,292.99 Q318.68,302.08 324.15,297.56 Q322.48,306.57 328.54,303.44 Q325.79,312.11 332.27,310.47 Q328.52,318.55 335.23,318.45 Q330.58,325.70 337.34,327.13 Q331.92,333.35 338.53,336.29 Q332.51,341.30 338.77,345.64Z" fill="#5c5c5c" stroke="#111" stroke-width="1.4" stroke-linejoin="miter"/>
<ellipse cx="305.5" cy="343.3" rx="27" ry="47.5" fill="none" stroke="#fff" stroke-width="0.9" stroke-dasharray="1.5 2.5" opacity="0.5"/>
<path d="M302,329.8 L362.5,334.9 L362.5,361.9 L302,356 A4.5,13.1 0 0 1 302,329.8 Z" fill="#5c5c5c" stroke="#111" stroke-width="1.4"/>
<ellipse cx="362.5" cy="348.4" rx="7.9" ry="13.5" fill="#b3b3b3" stroke="#111" stroke-width="1.4"/>
<ellipse cx="346.5" cy="340" rx="4.8" ry="3.1" transform="rotate(-10 346.5 340)" fill="#b3b3b3" stroke="#111" stroke-width="1.1"/>
<path d="M389.7,319.5 A16,28.5 0 0 0 389.7,376.5 L402.7,376.5 A16,28.5 0 0 1 402.7,319.5 Z" fill="#5c5c5c" stroke="#111" stroke-width="1.4"/>
<ellipse cx="402.7" cy="348" rx="16" ry="28.5" fill="#5c5c5c" stroke="#111" stroke-width="1.4"/>
<ellipse cx="402.7" cy="348" rx="14.4" ry="26.9" fill="none" stroke="#fff" stroke-width="0.9" stroke-dasharray="1.5 2" opacity="0.6"/>
<ellipse cx="402.7" cy="348" rx="8.4" ry="13.7" fill="#b3b3b3" stroke="#111" stroke-width="1.4"/>
<path d="M398,339 A3,9 0 0 0 398,358" fill="none" stroke="#111" stroke-width="2.4"/>
<path d="M619.70,317.40 C620.78,316.75 624.11,314.00 625.40,317.20 C626.69,320.39 627.95,331.19 628.30,338.70 C628.64,346.21 628.35,360.43 627.70,367.30 C627.06,374.17 625.85,379.34 624.00,384.50 C622.15,389.66 618.40,396.97 615.40,401.70 C612.40,406.43 607.66,412.56 604.00,416.00 C600.34,419.44 595.32,422.44 591.00,424.60 C586.68,426.76 580.80,428.64 575.20,430.40 C569.61,432.15 557.14,435.49 553.70,436.30 C550.26,437.11 552.07,439.24 552.30,435.80 C552.52,432.37 551.12,416.61 555.20,413.40 C559.28,410.19 573.05,415.72 579.50,414.40 C585.95,413.08 593.69,407.80 598.20,404.60 C602.72,401.41 606.81,397.39 609.60,393.10 C612.39,388.81 615.51,382.01 616.80,376.00 C618.09,369.99 617.99,361.18 618.20,353.00 C618.41,344.82 617.98,326.84 618.20,321.50 C618.43,316.16 618.62,318.04 619.70,317.40Z" fill="#5c5c5c" stroke="#111" stroke-width="1.4" stroke-linejoin="round"/>
<ellipse cx="622" cy="324" rx="2.6" ry="3.3" fill="none" stroke="#ddd" stroke-width="1" opacity="0.8"/><ellipse cx="622" cy="324" rx="1.6" ry="2.3" fill="#5c5c5c" stroke="#111" stroke-width="1.1"/>
<ellipse cx="616.8" cy="372" rx="2.6" ry="3.3" fill="none" stroke="#ddd" stroke-width="1" opacity="0.8"/><ellipse cx="616.8" cy="372" rx="1.6" ry="2.3" fill="#5c5c5c" stroke="#111" stroke-width="1.1"/>
<ellipse cx="567.5" cy="423" rx="2.6" ry="3.3" fill="none" stroke="#ddd" stroke-width="1" opacity="0.8"/><ellipse cx="567.5" cy="423" rx="1.6" ry="2.3" fill="#5c5c5c" stroke="#111" stroke-width="1.1"/>
<path d="M56.35,413.82 L60.175,407.8 L68.59,408.66 L71.65,415.54 L68.59,425 L59.41,423.624 Z" fill="#111" stroke="#111" stroke-width="1.2" stroke-linejoin="round"/><path d="M59.41,412.96 L62.47,409.864" stroke="#fff" stroke-width="1.8" stroke-linecap="round"/><rect x="58.951" y="416.056" width="2.601" height="6.192" fill="#fff" rx="0.6"/><ellipse cx="65.836" cy="417.26" rx="2.754" ry="4.816" fill="none" stroke="#666" stroke-width="0.9"/>
<path d="M556.4,246.97 L560.3,240.6 L568.88,241.51 L572,248.79 L568.88,258.8 L559.52,257.344 Z" fill="#111" stroke="#111" stroke-width="1.2" stroke-linejoin="round"/><path d="M559.52,246.06 L562.64,242.784" stroke="#fff" stroke-width="1.8" stroke-linecap="round"/><rect x="559.052" y="249.336" width="2.652" height="6.552" fill="#fff" rx="0.6"/><ellipse cx="566.072" cy="250.61" rx="2.808" ry="5.096" fill="none" stroke="#666" stroke-width="0.9"/>
<path d="M53.5,110 Q54.5,105.8 59,105.8 Q64,105.8 66.5,110 Q67.5,113.5 66,117.5 Q62.5,120 58,119.5 Q53.5,118.5 53.3,114 Z" fill="#111"/>
<ellipse cx="60" cy="112.7" rx="2.4" ry="3.3" fill="#777"/>
<path d="M24,229.5 L28.5,226 L35,226 L37,230.5 L57,231 Q60.3,231.5 60.3,237 Q60.3,242.8 57,242.8 L37,243 L35,243.6 L28.5,243.6 L24,240 Z" fill="#111" stroke="#111" stroke-width="1" stroke-linejoin="round"/>
<path d="M30,229 L35,228.5 L35.5,241.5 L30,242 Z" fill="#333"/>
<ellipse cx="35.80" cy="237" rx="1.2" ry="3.6" fill="#fff" transform="rotate(-5 35.80 237)"/>
<ellipse cx="38.90" cy="237" rx="1.2" ry="3.6" fill="#fff" transform="rotate(-5 38.90 237)"/>
<ellipse cx="42.00" cy="237" rx="1.2" ry="3.6" fill="#fff" transform="rotate(-5 42.00 237)"/>
<ellipse cx="45.10" cy="237" rx="1.2" ry="3.6" fill="#fff" transform="rotate(-5 45.10 237)"/>
<ellipse cx="48.20" cy="237" rx="1.2" ry="3.6" fill="#fff" transform="rotate(-5 48.20 237)"/>
<ellipse cx="51.30" cy="237" rx="1.2" ry="3.6" fill="#fff" transform="rotate(-5 51.30 237)"/>
<ellipse cx="54.40" cy="237" rx="1.2" ry="3.6" fill="#fff" transform="rotate(-5 54.40 237)"/>
<ellipse cx="57.50" cy="237" rx="1.2" ry="3.6" fill="#fff" transform="rotate(-5 57.50 237)"/>
<rect x="25.3" y="232.5" width="2.6" height="7" fill="#fff"/>
<path d="M27,229.5 L30.5,227.5" stroke="#fff" stroke-width="1.5"/>
<ellipse cx="23.6" cy="111.8" rx="8.2" ry="11.6" fill="#111"/>
<ellipse cx="22.3" cy="111.8" rx="5.6" ry="9.6" fill="#fff"/>
<ellipse cx="24.3" cy="111.8" rx="5.2" ry="9.4" fill="#1a1a1a"/>
<ellipse cx="25.2" cy="111.8" rx="3.4" ry="6.8" fill="#8a8a8a"/>
<path d="M29.5,108.2 L45.5,108.2 Q47.8,108.2 47.8,112.6 Q47.8,117.1 45.5,117.1 L29.5,117.1 Z" fill="#6a6a6a" stroke="#111" stroke-width="1.7"/>
<ellipse cx="45.4" cy="112.6" rx="1.5" ry="3.6" fill="#eee"/>
<path d="M32,111 L43,111 M32,114 L43,114" stroke="#aaa" stroke-width="1" opacity="0.8"/>
<path d="M611.5,424 L629,423.5 L630,422 L635,422.3 Q637,426.5 635,430.5 L630,430.7 L629,429.5 L611.5,429.5 Q610.5,426.7 611.5,424 Z" fill="#111" stroke="#111" stroke-width="0.9"/>
<rect x="613.5" y="425.3" width="1.6" height="2.6" fill="#ddd"/>
<rect x="616.5" y="425.3" width="1.6" height="2.6" fill="#ddd"/>
<rect x="619.5" y="425.3" width="1.6" height="2.6" fill="#ddd"/>
<rect x="622.5" y="425.3" width="1.6" height="2.6" fill="#ddd"/>
<rect x="625.5" y="425.3" width="1.6" height="2.6" fill="#ddd"/>
<rect x="631.5" y="424" width="1.3" height="5" fill="#fff"/>
<text transform="translate(266.58,43.40) scale(0.92,1)" font-family="Liberation Sans, sans-serif" font-weight="bold" font-size="28" fill="#111">3</text>
<text transform="translate(343.78,54.30) scale(0.92,1)" font-family="Liberation Sans, sans-serif" font-weight="bold" font-size="28" fill="#111">4</text>
<text transform="translate(170.03,63.60) scale(0.92,1)" font-family="Liberation Sans, sans-serif" font-weight="bold" font-size="28" fill="#111">2</text>
<text transform="translate(555.53,65.50) scale(0.92,1)" font-family="Liberation Sans, sans-serif" font-weight="bold" font-size="28" fill="#111">5</text>
<path d="M31.7,160.5 L31.7,179.7 L27.7,179.7 L27.7,165.3 Q25.5,167.3 22.9,168.6 L22.9,164.6 Q26,163 28.2,160.5 Z" fill="#111"/>
<text transform="translate(35.67,179.80) scale(0.92,1)" font-family="Liberation Sans, sans-serif" font-weight="bold" font-size="28" fill="#111">0</text>
<path d="M680.2,97.8 L680.2,116.9 L676.2,116.9 L676.2,102.6 Q674,104.6 671.2,105.9 L671.2,101.9 Q674.3,100.3 676.6,97.8 Z" fill="#111"/>
<text transform="translate(230.03,265.20) scale(0.92,1)" font-family="Liberation Sans, sans-serif" font-weight="bold" font-size="28" fill="#111">9</text>
<text transform="translate(339.43,266.80) scale(0.92,1)" font-family="Liberation Sans, sans-serif" font-weight="bold" font-size="28" fill="#111">8</text>
<text transform="translate(391.07,257.50) scale(0.92,1)" font-family="Liberation Sans, sans-serif" font-weight="bold" font-size="28" fill="#111">7</text>
<text transform="translate(601.57,270.80) scale(0.92,1)" font-family="Liberation Sans, sans-serif" font-weight="bold" font-size="28" fill="#111">6</text>
<line x1="274.7" y1="44.4" x2="259.3" y2="58.6" stroke="#222" stroke-width="1.1"/>
<line x1="344" y1="50" x2="320.4" y2="68.9" stroke="#222" stroke-width="1.1"/>
<line x1="169" y1="56" x2="139" y2="81" stroke="#222" stroke-width="1.1"/>
<line x1="555.7" y1="58" x2="521" y2="85" stroke="#222" stroke-width="1.1"/>
<line x1="38.2" y1="155" x2="33.8" y2="120.3" stroke="#222" stroke-width="1.1"/>
<line x1="38.2" y1="155" x2="53.3" y2="117" stroke="#222" stroke-width="1.1"/>
<line x1="669.3" y1="108" x2="642.5" y2="133" stroke="#222" stroke-width="1.1"/>
<line x1="240.7" y1="263" x2="262.4" y2="326.4" stroke="#222" stroke-width="1.1"/>
<line x1="312.7" y1="221" x2="339.3" y2="260.6" stroke="#222" stroke-width="1.1"/>
<line x1="398.7" y1="255.4" x2="382.6" y2="324" stroke="#222" stroke-width="1.1"/>
<line x1="607.8" y1="271" x2="618.5" y2="317.6" stroke="#222" stroke-width="1.1"/>
</svg>
</body></html>
